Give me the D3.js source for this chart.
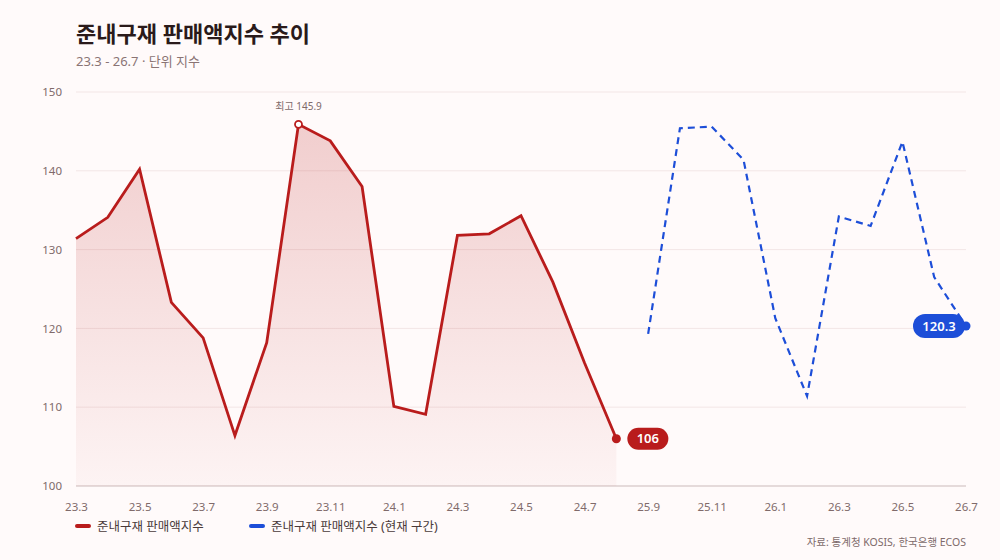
<!DOCTYPE html>
<html>
<head>
<meta charset="utf-8">
<script src="https://cdn.jsdelivr.net/npm/d3@7"></script>
<style>
  body { margin: 0; background: #fffafa; font-family: "Noto Sans", "Noto Sans CJK KR", sans-serif; }
  svg text { font-family: "Noto Sans", "Noto Sans CJK KR", sans-serif; }
</style>
</head>
<body>
<div id="chart"></div>
<script>
// categories (monthly, with a gap between 24.8 and 25.9)
var months = ["23.3","23.4","23.5","23.6","23.7","23.8","23.9","23.10","23.11","23.12",
              "24.1","24.2","24.3","24.4","24.5","24.6","24.7","24.8",
              "25.9","25.10","25.11","25.12","26.1","26.2","26.3","26.4","26.5","26.6","26.7"];

// past series (red)
var pastMonths = months.slice(0, 18);
var pastValues = [131.4, 134.1, 140.2, 123.3, 118.8, 106.4, 118.2, 145.9, 143.8, 138.0,
                  110.1, 109.1, 131.8, 132.0, 134.3, 125.9, 115.6, 106.0];

// current series (blue, dashed)
var currentMonths = months.slice(18);
var currentValues = [119.3, 145.4, 145.6, 141.4, 121.3, 111.4, 134.2, 133.0, 143.7, 126.5, 120.3];

var yTicks = [100, 110, 120, 130, 140, 150];
var xTickLabels = months.filter(function(d, i) { return i % 2 === 0; });

var W = 1000, H = 560;
var margin = {top: 92, right: 34, bottom: 74, left: 76};

var svg = d3.select("#chart").append("svg")
  .attr("width", W).attr("height", H);

svg.append("rect").attr("width", W).attr("height", H).attr("fill", "#fffafa");

var x = d3.scalePoint().domain(months).range([margin.left, W - margin.right]);
var y = d3.scaleLinear().domain([100, 150]).range([H - margin.bottom, margin.top]);

// title
svg.append("text").attr("x", 76).attr("y", 42)
  .attr("font-size", 22).attr("font-weight", 700).attr("fill", "#2a1a1a")
  .text("준내구재 판매액지수 추이");
svg.append("text").attr("x", 76).attr("y", 66)
  .attr("font-size", 13).attr("fill", "#8a7474")
  .text("23.3 - 26.7 · 단위 지수");

// gradient
var defs = svg.append("defs");
var grad = defs.append("linearGradient").attr("id", "areaGrad")
  .attr("x1", 0).attr("y1", 0).attr("x2", 0).attr("y2", 1);
grad.append("stop").attr("offset", "0%").attr("stop-color", "#b91c1c").attr("stop-opacity", 0.2);
grad.append("stop").attr("offset", "100%").attr("stop-color", "#b91c1c").attr("stop-opacity", 0.03);

// grid
svg.append("g").selectAll("line").data(yTicks).enter().append("line")
  .attr("x1", margin.left).attr("x2", W - margin.right)
  .attr("y1", function(d) { return y(d); }).attr("y2", function(d) { return y(d); })
  .attr("stroke", function(d) { return d === 100 ? "#dccfcf" : "#f3e6e6"; })
  .attr("stroke-width", function(d) { return d === 100 ? 1.5 : 1; });

// y axis labels
var yAxis = svg.append("g")
  .attr("transform", "translate(" + margin.left + ",0)")
  .call(d3.axisLeft(y).tickValues(yTicks).tickSize(0).tickPadding(14));
yAxis.select(".domain").remove();
yAxis.selectAll("text").attr("font-size", 11.5).attr("fill", "#806a6a")
  .attr("font-family", "'Noto Sans', 'Noto Sans CJK KR', sans-serif");

// x axis labels
var xAxis = svg.append("g")
  .attr("transform", "translate(0," + (H - margin.bottom) + ")")
  .call(d3.axisBottom(x).tickValues(xTickLabels).tickSize(0).tickPadding(17));
xAxis.select(".domain").remove();
xAxis.selectAll("text").attr("font-size", 11.5).attr("fill", "#806a6a")
  .attr("font-family", "'Noto Sans', 'Noto Sans CJK KR', sans-serif");

var past = pastMonths.map(function(m, i) { return {m: m, v: pastValues[i]}; });
var current = currentMonths.map(function(m, i) { return {m: m, v: currentValues[i]}; });

// area
svg.append("path").datum(past)
  .attr("fill", "url(#areaGrad)")
  .attr("d", d3.area().x(function(d) { return x(d.m); }).y0(y(100)).y1(function(d) { return y(d.v); }));

var line = d3.line().x(function(d) { return x(d.m); }).y(function(d) { return y(d.v); });

svg.append("path").datum(past)
  .attr("fill", "none").attr("stroke", "#b91c1c").attr("stroke-width", 2.8)
  .attr("stroke-linejoin", "miter").attr("d", line);

svg.append("path").datum(current)
  .attr("fill", "none").attr("stroke", "#1d4ed8").attr("stroke-width", 2.2)
  .attr("stroke-dasharray", "7,5").attr("d", line);

// peak marker
var peak = past[d3.maxIndex(past, function(d) { return d.v; })];
svg.append("circle").attr("cx", x(peak.m)).attr("cy", y(peak.v)).attr("r", 3.5)
  .attr("fill", "#fff").attr("stroke", "#b91c1c").attr("stroke-width", 1.8);
svg.append("text").attr("x", x(peak.m)).attr("y", y(peak.v) - 14)
  .attr("text-anchor", "middle").attr("font-size", 10).attr("fill", "#806a6a")
  .text("최고 " + peak.v.toFixed(1));

// end markers with pill labels
var lastPast = past[past.length - 1];
svg.append("circle").attr("cx", x(lastPast.m)).attr("cy", y(lastPast.v)).attr("r", 4.5).attr("fill", "#b91c1c");
var px = x(lastPast.m) + 11, py = y(lastPast.v);
svg.append("rect").attr("x", px).attr("y", py - 11).attr("width", 41).attr("height", 22).attr("rx", 11)
  .attr("fill", "#b91c1c");
svg.append("text").attr("x", px + 20.5).attr("y", py + 4.5).attr("text-anchor", "middle")
  .attr("font-size", 13).attr("font-weight", 600).attr("fill", "#fff").text(String(lastPast.v));

var lastCur = current[current.length - 1];
svg.append("circle").attr("cx", x(lastCur.m)).attr("cy", y(lastCur.v)).attr("r", 4.5).attr("fill", "#1d4ed8");
var cx = x(lastCur.m) - 53, cy = y(lastCur.v);
svg.append("rect").attr("x", cx).attr("y", cy - 12).attr("width", 52).attr("height", 24).attr("rx", 12)
  .attr("fill", "#1d4ed8");
svg.append("text").attr("x", cx + 26).attr("y", cy + 4.5).attr("text-anchor", "middle")
  .attr("font-size", 13).attr("font-weight", 600).attr("fill", "#fff").text(lastCur.v.toFixed(1));

// legend
var legend = [{label: "준내구재 판매액지수", color: "#b91c1c", x: 76},
              {label: "준내구재 판매액지수 (현재 구간)", color: "#1d4ed8", x: 250}];
var lg = svg.append("g").selectAll("g").data(legend).enter().append("g")
  .attr("transform", function(d) { return "translate(" + d.x + ",526)"; });
lg.append("line").attr("x1", 1).attr("x2", 13).attr("y1", 0).attr("y2", 0)
  .attr("stroke", function(d) { return d.color; }).attr("stroke-width", 4).attr("stroke-linecap", "round");
lg.append("text").attr("x", 21).attr("y", 4.5).attr("font-size", 12.5).attr("fill", "#4a3a3a")
  .text(function(d) { return d.label; });

// source
svg.append("text").attr("x", W - margin.right).attr("y", 546).attr("text-anchor", "end")
  .attr("font-size", 10.5).attr("fill", "#806a6a")
  .text("자료: 통계청 KOSIS, 한국은행 ECOS");
</script>
</body>
</html>
